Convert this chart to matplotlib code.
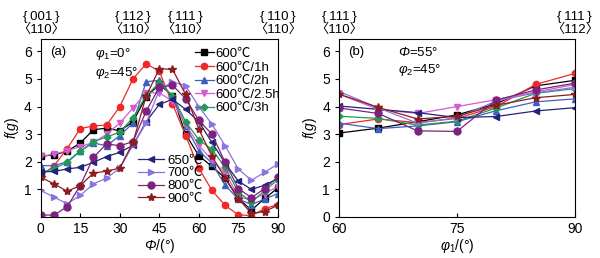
import numpy as np
import matplotlib
matplotlib.use("Agg")
import matplotlib.pyplot as plt

plt.rcParams['font.family'] = ['Liberation Sans', 'Noto Sans CJK SC', 'DejaVu Sans']
plt.rcParams['mathtext.fontset'] = 'custom'
plt.rcParams['mathtext.rm'] = 'Liberation Sans'
plt.rcParams['mathtext.it'] = 'Liberation Sans:italic'
plt.rcParams['mathtext.sf'] = 'Liberation Sans:italic'
plt.rcParams['font.size'] = 9

# panel (a): Phi section, phi1=0, phi2=45
phi_a = [0, 5, 10, 15, 20, 25, 30, 35, 40, 45, 50, 55, 60, 65, 70, 75, 80, 85, 90]
a_600 = [2.2, 2.25, 2.38, 2.68, 3.16, 3.22, 3.12, 3.45, 4.35, 4.8, 4.4, 3.0, 2.22, 1.83, 1.41, 0.67, 0.25, 0.67, 1.05]
a_600_1h = [1.5, 1.85, 2.48, 3.2, 3.3, 3.33, 4.0, 5.0, 5.55, 5.28, 4.1, 2.95, 1.77, 0.96, 0.42, 0.08, 0.05, 0.3, 0.45]
a_600_2h = [1.86, 1.86, 2.0, 2.4, 2.68, 2.58, 2.95, 3.4, 4.9, 4.95, 4.35, 3.3, 2.4, 1.95, 1.15, 0.65, 0.45, 0.65, 0.85]
a_600_25h = [2.2, 2.27, 2.4, 2.55, 2.7, 3.0, 3.4, 3.95, 4.5, 4.5, 4.2, 3.35, 2.6, 2.05, 1.6, 0.75, 0.6, 0.85, 1.1]
a_600_3h = [1.6, 1.75, 1.98, 2.38, 2.73, 2.9, 3.07, 3.6, 4.4, 4.85, 4.4, 3.45, 2.8, 2.45, 1.8, 0.9, 0.55, 0.95, 1.35]
a_650 = [1.63, 1.65, 1.74, 1.8, 1.98, 2.19, 2.34, 2.6, 3.45, 4.08, 4.26, 3.9, 3.45, 2.7, 1.95, 1.3, 1.0, 1.15, 1.4]
a_700 = [0.96, 0.72, 0.48, 0.78, 1.2, 1.41, 1.77, 2.6, 3.4, 4.6, 4.9, 4.75, 4.0, 3.36, 2.58, 1.74, 1.33, 1.62, 1.92]
a_800 = [0.07, 0.07, 0.37, 1.14, 2.16, 2.65, 2.58, 2.73, 3.83, 4.7, 4.77, 4.29, 3.5, 3.0, 1.98, 1.03, 0.7, 1.03, 1.44]
a_900 = [1.44, 1.2, 0.93, 1.14, 1.59, 1.66, 1.77, 2.7, 4.38, 5.37, 5.35, 4.44, 3.18, 2.2, 1.41, 0.66, 0.13, 0.19, 0.43]

# panel (b): phi1 section, Phi=55, phi2=45
phi1_b = [60, 65, 70, 75, 80, 85, 90]
b_600 = [3.04, 3.22, 3.45, 3.7, 4.1, 4.75, 4.95]
b_600_1h = [3.35, 3.55, 3.42, 3.57, 4.0, 4.8, 5.2]
b_600_2h = [3.4, 3.2, 3.3, 3.45, 3.85, 4.17, 4.28]
b_600_25h = [4.45, 3.9, 3.75, 4.0, 4.25, 4.53, 4.8]
b_600_3h = [3.65, 3.57, 3.33, 3.47, 3.95, 4.48, 4.65]
b_650 = [4.02, 3.9, 3.78, 3.6, 3.64, 3.84, 3.96]
b_700 = [4.55, 3.95, 3.4, 3.6, 4.2, 4.5, 4.7]
b_800 = [3.95, 3.75, 3.12, 3.1, 4.24, 4.6, 4.85]
b_900 = [4.45, 3.97, 3.55, 3.65, 4.05, 4.32, 4.44]

labels = ['600℃', '600℃/1h', '600℃/2h', '600℃/2.5h', '600℃/3h',
          '650℃', '700℃', '800℃', '900℃']
colors = ['#000000', '#f02828', '#3d5fbf', '#d45cd0', '#1f9a55',
          '#23237a', '#8a74e0', '#7d237d', '#8a1d1d']
markers = ['s', 'o', '^', 'v', 'D', '<', '>', 'o', '*']
msizes = [4, 4.5, 4.5, 4.5, 3.5, 4.5, 4.5, 5, 6]

data_a = [a_600, a_600_1h, a_600_2h, a_600_25h, a_600_3h, a_650, a_700, a_800, a_900]
data_b = [b_600, b_600_1h, b_600_2h, b_600_25h, b_600_3h, b_650, b_700, b_800, b_900]

fig = plt.figure(figsize=(6, 2.58), dpi=100)
ax1 = fig.add_axes([0.068, 0.159, 0.395, 0.69])
ax2 = fig.add_axes([0.565, 0.159, 0.393, 0.69])

lines = []
for y, c, m, ms, lab in zip(data_a, colors, markers, msizes, labels):
    l, = ax1.plot(phi_a, y, color=c, marker=m, ms=ms, lw=0.9, label=lab)
    lines.append(l)
for y, c, m, ms in zip(data_b, colors, markers, msizes):
    ax2.plot(phi1_b, y, color=c, marker=m, ms=ms, lw=0.9)

leg1 = ax1.legend(handles=lines[:5], loc='upper right', frameon=False, fontsize=9.5,
                  handlelength=1.4, handletextpad=0.1, labelspacing=0.1,
                  borderaxespad=0.0, bbox_to_anchor=(1.03, 0.98))
ax1.add_artist(leg1)
ax1.legend(handles=lines[5:], loc='lower left', frameon=False, fontsize=9.5,
           handlelength=2.0, handletextpad=0.2, labelspacing=0.05,
           bbox_to_anchor=(0.36, 0.0))

for ax in (ax1, ax2):
    ax.set_ylim(0, 6.45)
    ax.tick_params(axis='y', direction='out', length=3, labelsize=10)
    ax.tick_params(axis='x', direction='in', length=3, labelsize=10)
    ax.set_ylabel('$\\mathit{f}$($\\mathit{g}$)', fontsize=10, labelpad=2)

ax1.set_xlim(0, 90)
ax1.set_xticks([0, 15, 30, 45, 60, 75, 90])
ax1.set_yticks([1, 2, 3, 4, 5, 6])
ax1.set_xlabel('$\\mathsf{Φ}$/(°)', fontsize=10, labelpad=1)

ax2.set_xlim(60, 90)
ax2.set_xticks([60, 75, 90])
ax2.set_yticks([0, 1, 2, 3, 4, 5, 6])
ax2.set_xlabel('$\\varphi_1$/(°)', fontsize=10, labelpad=1)

ax1.text(0.04, 0.96, '(a)', transform=ax1.transAxes, va='top', fontsize=9.5)
ax1.text(0.23, 0.96, '$\\varphi_1$=0°\n$\\varphi_2$=45°', transform=ax1.transAxes,
         va='top', fontsize=9.5, linespacing=1.3)
ax2.text(0.04, 0.96, '(b)', transform=ax2.transAxes, va='top', fontsize=9.5)
ax2.text(0.25, 0.96, '$\\mathsf{Φ}$=55°\n$\\varphi_2$=45°', transform=ax2.transAxes,
         va='top', fontsize=9.5, linespacing=1.3)

ts = '\u2009'
top_a = [(0, '001', '110'), (35, '112', '110'), (55, '111', '110'), (90, '110', '110')]
top_b = [(60, '111', '110'), (90, '111', '112')]
for ax, items in ((ax1, top_a), (ax2, top_b)):
    for xv, plane, direc in items:
        s = '{' + ts + plane + ts + '}\n〈' + direc + '〉'
        ax.text(xv, 1.02, s, transform=ax.get_xaxis_transform(), ha='center',
                va='bottom', fontsize=9.5, linespacing=1.0)

fig.savefig('out.png', dpi=100)
plt.close()
